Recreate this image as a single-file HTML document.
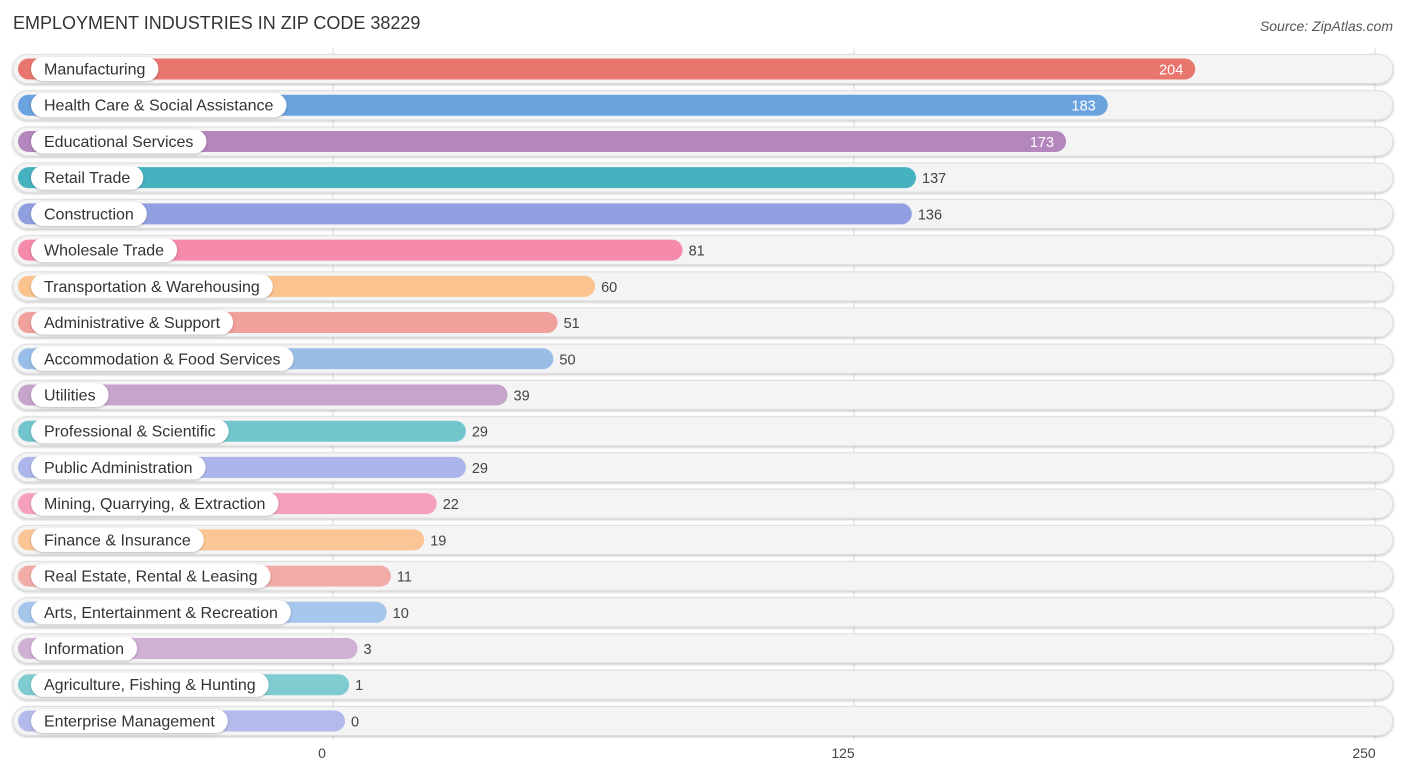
<!DOCTYPE html>
<html><head><meta charset="utf-8">
<style>
body{margin:0;background:#fff;font-family:"Liberation Sans",Arial,sans-serif;}
svg{display:block}
</style></head>
<body>
<svg id="chart" width="1406" height="777" xmlns="http://www.w3.org/2000/svg">
<defs>
<filter id="sh" x="-10%" y="-30%" width="120%" height="160%"><feDropShadow dx="0" dy="1" stdDeviation="1.2" flood-color="#000" flood-opacity="0.25"/></filter>
</defs>
<text x="13" y="29" font-size="18" fill="#333">EMPLOYMENT INDUSTRIES IN ZIP CODE 38229</text>
<text x="1393" y="31" font-size="14" fill="#555" font-style="italic" text-anchor="end">Source: ZipAtlas.com</text>
<g id="grid"></g>
<g id="rows"></g>
<g id="axis"></g>
</svg>
<script>
const categories=["Manufacturing","Health Care & Social Assistance","Educational Services","Retail Trade","Construction","Wholesale Trade","Transportation & Warehousing","Administrative & Support","Accommodation & Food Services","Utilities","Professional & Scientific","Public Administration","Mining, Quarrying, & Extraction","Finance & Insurance","Real Estate, Rental & Leasing","Arts, Entertainment & Recreation","Information","Agriculture, Fishing & Hunting","Enterprise Management"];
const values=[204,183,173,137,136,81,60,51,50,39,29,29,22,19,11,10,3,1,0];
const colors=["#e8766f","#6ba3de","#b386bd","#46b1bf","#919fe0","#f58aaa","#fbc38e","#f0a19c","#98bee8","#c6a4cb","#72c6cb","#adb6ea","#f6a0bc","#fbc595","#f2aca8","#a6c6ec","#ceb1d3","#7ecbd0","#b3bbec"];
const ticks=[0,125,250];
const NS="http://www.w3.org/2000/svg";
const x0=333,k=521/125;
const xs=v=>x0+v*k;
const rowY=i=>69+i*36.22;
function mk(t,a,p){const e=document.createElementNS(NS,t);for(const n in a)e.setAttribute(n,a[n]);p.appendChild(e);return e;}
const grid=document.getElementById('grid'),rows=document.getElementById('rows'),axis=document.getElementById('axis');
ticks.forEach(t=>{
  const l=mk('line',{x1:xs(t),x2:xs(t),y1:48,y2:740,stroke:'#ddd','stroke-width':1},grid);
  
  
  const tx=mk('text',{x:xs(t)-11,y:758,'font-size':14,fill:'#444','text-anchor':'middle'},axis);
  tx.textContent=t;
  
  
});
categories.forEach((c,i)=>{
  const y=rowY(i);
  const g=mk('g',{},rows);
  
  
  const bg=mk('rect',{x:13,y:y-14.5,width:1380,height:29,rx:14.5,fill:'#f4f4f4',stroke:'#dedede','stroke-width':1,filter:'url(#sh)'},g);
  
  
  const end=xs(values[i])+12;
  const b=mk('rect',{x:18,y:y-10.5,width:end-18,height:21,rx:10.5,fill:colors[i]},g);
  
  
  const p=mk('rect',{x:31,y:y-12,width:100,height:24,rx:12,fill:'#fff',filter:'url(#sh)'},g);
  
  
  const t=mk('text',{x:44,y:y+5.5,'font-size':16,fill:'#333'},g);
  t.textContent=c;
  
  
  p.setAttribute('width',t.getComputedTextLength()+26);
  const inside=values[i]>150;
  const v=mk('text',{x:inside?end-12:end+6,y:y+5.5,'font-size':14.5,fill:inside?'#fff':'#444','text-anchor':inside?'end':'start'},g);
  v.textContent=values[i];
  
  
});
</script>
</body></html>
